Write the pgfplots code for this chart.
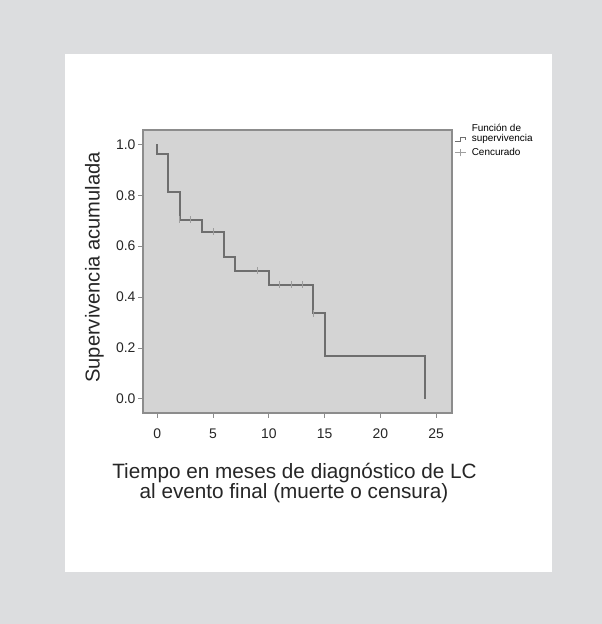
\documentclass[border=0pt]{standalone}
\usepackage{pgfplots}
\pgfplotsset{compat=1.18}
\usepackage{fontspec}
\setmainfont{Liberation Sans}

\definecolor{pagebg}{RGB}{220,221,223}
\definecolor{plotbg}{RGB}{212,212,212}
\definecolor{kmline}{RGB}{110,110,110}
\definecolor{censor}{RGB}{158,158,158}
\definecolor{framec}{RGB}{140,140,140}

\begin{document}
\begin{tikzpicture}
% page background and white panel
\fill[pagebg] (0bp,0bp) rectangle (602bp,624bp);
\fill[white] (65bp,52bp) rectangle (552bp,570bp);

\begin{axis}[
    at={(143bp,211bp)}, anchor=south west,
    scale only axis,
    width=309bp, height=283bp,
    xmin=-1.28, xmax=26.43,
    ymin=-0.055, ymax=1.056,
    xtick={0,5,10,15,20,25},
    ytick={0,0.2,0.4,0.6,0.8,1.0},
    tick pos=left,
    tick align=outside,
    major tick length=5bp,
    tick style={draw=framec, line width=1bp},
    axis line style={draw=framec, line width=1.3bp},
    axis background/.style={fill=plotbg},
    /pgf/number format/assume math mode=true,
    tick label style={font=\fontsize{14}{16}\selectfont, text=black!85},
    yticklabel style={/pgf/number format/fixed, /pgf/number format/fixed zerofill,
        /pgf/number format/precision=1, xshift=1bp},
    xticklabel style={/pgf/number format/fixed, yshift=-7bp},
    legend style={at={(1,1)}, anchor=north west, xshift=2bp, yshift=8.5bp,
        draw=none, fill=none, inner sep=0pt,
        font=\fontsize{10}{11}\selectfont,
        cells={anchor=west, align=left}, row sep=1bp},
]
% Kaplan-Meier curve
\addplot[const plot, kmline, line width=2bp,
    legend image code/.code={
        \draw[kmline, line width=1.2bp] (0bp,-8bp) -- (5.7bp,-8bp) -- (5.7bp,-4bp) -- (11bp,-4bp) -- (11bp,-6bp);
        \path (14bp,-6bp);
    }] coordinates {
    (0,1.0) (0,0.962) (1,0.814) (2,0.703) (4,0.657) (6,0.556)
    (7,0.504) (10,0.448) (14,0.336) (15,0.168) (24,0.0)
};
\addlegendentry{Función de\\supervivencia}
% censored observations
\addplot[only marks, mark=|, mark size=3.5bp, censor,
    mark options={line width=1bp},
    legend image code/.code={
        \draw[censor, line width=1.2bp] (0bp,0bp) -- (11bp,0bp);
        \draw[censor, line width=1bp] (5.7bp,-3.5bp) -- (5.7bp,3.5bp);
        \path (14bp,0bp);
    }] coordinates {
    (2,0.703) (3,0.703) (5,0.657) (9,0.504)
    (11,0.448) (12,0.448) (13,0.448) (14,0.336)
};
\addlegendentry{Cencurado}
\end{axis}

% axis titles
\node[rotate=90, font=\fontsize{20.2}{22}\selectfont, text=black!85] at (94.5bp,356.5bp) {Supervivencia acumulada};
\node[anchor=base, font=\fontsize{20.8}{22}\selectfont, text=black!85] at (294.5bp,145.5bp) {Tiempo en meses de diagnóstico de LC};
\node[anchor=base, font=\fontsize{20.8}{22}\selectfont, text=black!85] at (294bp,125bp) {al evento final (muerte o censura)};
\end{tikzpicture}
\end{document}
